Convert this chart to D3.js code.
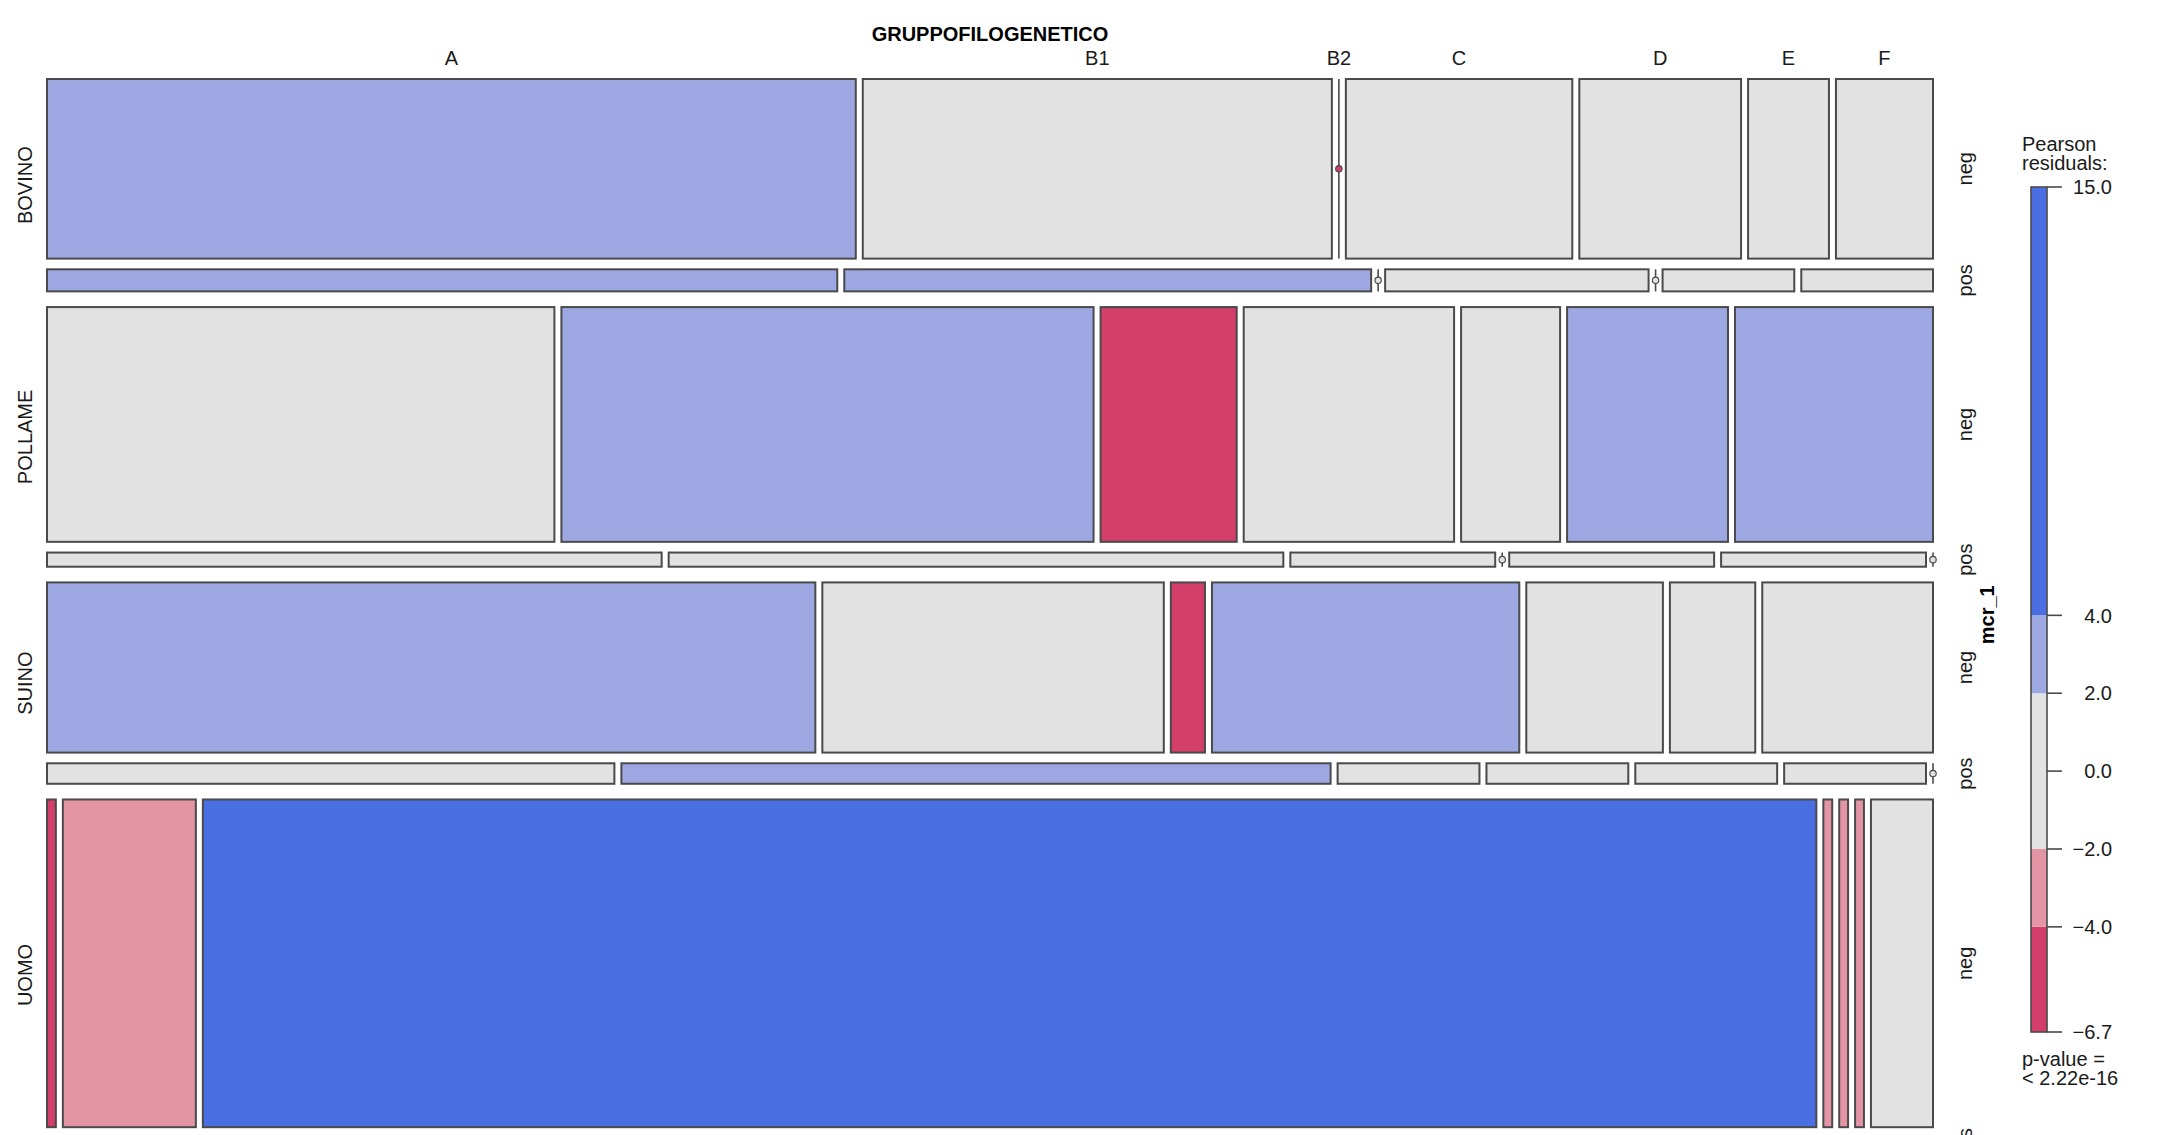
<!DOCTYPE html>
<html>
<head>
<meta charset="utf-8">
<script src="https://cdn.jsdelivr.net/npm/d3@7"></script>
<style>
  html, body { margin: 0; padding: 0; background: #ffffff; }
  svg { display: block; }
  text { font-family: "Liberation Sans", Arial, sans-serif; fill: #1a1a1a; }
</style>
</head>
<body>
<script>
// ---------------- data ----------------
const origins   = ["BOVINO", "POLLAME", "SUINO", "UOMO"];
const mcrLevels = ["neg", "pos"];
const groups    = ["A", "B1", "B2", "C", "D", "E", "F"];

// counts per GRUPPOFILOGENETICO (A, B1, B2, C, D, E, F)
const bovinoNeg  = [50, 29, 0, 14, 10, 5, 6];
const bovinoPos  = [6, 4, 0, 2, 0, 1, 1];
const pollameNeg = [41, 43, 11, 17, 8, 13, 16];
const pollamePos = [3, 3, 1, 0, 1, 1, 0];
const suinoNeg   = [45, 20, 2, 18, 8, 5, 10];
const suinoPos   = [4, 5, 1, 1, 1, 1, 0];
const uomoNeg    = [1, 15, 182, 1, 1, 1, 7];
const uomoPos    = [0, 1, 6, 0, 0, 0, 1];

// Pearson residuals (estimated from the shading)
const bovinoNegRes  = [3.9, 1.2, -6.2, 0.5, 1.0, 0.3, 0.8];
const bovinoPosRes  = [2.6, 2.1, -1.6, 1.0, -0.9, 0.7, 0.4];
const pollameNegRes = [-0.5, 2.9, -5.3, 0.7, 0.4, 2.8, 2.6];
const pollamePosRes = [0.3, 1.0, -1.3, -1.0, 0.6, 0.7, -1.0];
const suinoNegRes   = [3.3, 0.4, -5.7, 3.0, 0.8, 0.1, 1.5];
const suinoPosRes   = [0.6, 2.5, -1.1, 0.5, 1.2, 1.3, -1.2];
const uomoNegRes    = [-6.7, -3.6, 15.0, -3.8, -2.7, -2.5, -1.6];
const uomoPosRes    = [-1.8, -0.9, 0.9, -1.1, -0.8, -0.8, 0.2];

const legendBreaks = [4, 2, 0, -2, -4];
const shadeBreaks  = [-4, -2, 2, 4];
const shadeColors  = ["#D33F6A", "#E495A5", "#E2E2E2", "#9DA8E2", "#4A6FE3"];
const pValueText   = "< 2.22e-16";

// ---------------- table built from the arrays ----------------
const table = [
  { origin: origins[0], strips: [ { mcr: mcrLevels[0], counts: bovinoNeg,  res: bovinoNegRes },  { mcr: mcrLevels[1], counts: bovinoPos,  res: bovinoPosRes } ] },
  { origin: origins[1], strips: [ { mcr: mcrLevels[0], counts: pollameNeg, res: pollameNegRes }, { mcr: mcrLevels[1], counts: pollamePos, res: pollamePosRes } ] },
  { origin: origins[2], strips: [ { mcr: mcrLevels[0], counts: suinoNeg,   res: suinoNegRes },   { mcr: mcrLevels[1], counts: suinoPos,   res: suinoPosRes } ] },
  { origin: origins[3], strips: [ { mcr: mcrLevels[0], counts: uomoNeg,    res: uomoNegRes },    { mcr: mcrLevels[1], counts: uomoPos,    res: uomoPosRes } ] }
];

// ---------------- layout ----------------
const W = 2166, H = 1135;
const plotLeft = 47, plotRight = 1933, plotTop = 79, plotBottom = 1150.5;
const colGap = 7, innerGap = 10.7, outerGap = 15.7;
const fontSize = 20;
const strokeCol = "#4a4a4a";

const color = d3.scaleThreshold().domain(shadeBreaks).range(shadeColors);

const svg = d3.select("body").append("svg").attr("width", W).attr("height", H);

const N = d3.sum(table, r => d3.sum(r.strips, s => d3.sum(s.counts)));
const totalInner = d3.sum(table, r => r.strips.length - 1) * innerGap;
const totalOuter = (table.length - 1) * outerGap;
const yCount = d3.scaleLinear().domain([0, N]).range([0, plotBottom - plotTop - totalInner - totalOuter]);

let yCur = plotTop;
table.forEach((row) => {
  row.y0 = yCur;
  row.strips.forEach((s, si) => {
    s.total = d3.sum(s.counts);
    s.y0 = yCur;
    s.h = yCount(s.total);
    yCur += s.h;
    s.y1 = yCur;
    if (si < row.strips.length - 1) yCur += innerGap;
    const xCount = d3.scaleLinear().domain([0, s.total])
      .range([0, plotRight - plotLeft - (groups.length - 1) * colGap]);
    let cum = 0;
    s.cells = s.counts.map((c, gi) => {
      const x0 = plotLeft + xCount(cum) + gi * colGap;
      cum += c;
      return { group: groups[gi], count: c, res: s.res[gi], x0: x0, w: xCount(c), y0: s.y0, h: s.h };
    });
  });
  row.y1 = yCur;
  yCur += outerGap;
});

// ---------------- cells ----------------
const gCells = svg.append("g");
table.forEach(row => {
  row.strips.forEach(s => {
    s.cells.forEach(c => {
      if (c.count > 0) {
        gCells.append("rect")
          .attr("x", c.x0).attr("y", c.y0)
          .attr("width", c.w).attr("height", c.h)
          .attr("fill", color(c.res))
          .attr("stroke", strokeCol).attr("stroke-width", 2);
      } else {
        gCells.append("line")
          .attr("x1", c.x0).attr("x2", c.x0)
          .attr("y1", c.y0).attr("y2", c.y0 + c.h)
          .attr("stroke", strokeCol).attr("stroke-width", 1.6);
        gCells.append("circle")
          .attr("cx", c.x0).attr("cy", c.y0 + c.h / 2).attr("r", 3.2)
          .attr("fill", color(c.res))
          .attr("stroke", strokeCol).attr("stroke-width", 1.2);
      }
    });
  });
});

// ---------------- labels ----------------
svg.append("text")
  .attr("x", (plotLeft + plotRight) / 2).attr("y", 41)
  .attr("text-anchor", "middle").attr("font-weight", "bold")
  .attr("font-size", fontSize).style("fill", "#000")
  .text("GRUPPOFILOGENETICO");

// top labels: centred on the first strip's cells
table[0].strips[0].cells.forEach(c => {
  svg.append("text")
    .attr("x", c.x0 + c.w / 2).attr("y", 65)
    .attr("text-anchor", "middle").attr("font-size", fontSize)
    .text(c.group);
});

// left labels (ORIGINE)
table.forEach(row => {
  const cy = (row.y0 + row.y1) / 2;
  svg.append("text")
    .attr("transform", `translate(25,${cy}) rotate(-90)`)
    .attr("text-anchor", "middle").attr("dy", "0.36em")
    .attr("font-size", fontSize)
    .text(row.origin);
});

// right labels (mcr_1 levels)
table.forEach(row => {
  row.strips.forEach(s => {
    const cy = (s.y0 + s.y1) / 2;
    svg.append("text")
      .attr("transform", `translate(1965,${cy}) rotate(-90)`)
      .attr("text-anchor", "middle").attr("dy", "0.36em")
      .attr("font-size", fontSize)
      .text(s.mcr);
  });
});

svg.append("text")
  .attr("transform", `translate(1987,${(plotTop + plotBottom) / 2}) rotate(-90)`)
  .attr("text-anchor", "middle").attr("dy", "0.36em")
  .attr("font-size", fontSize).attr("font-weight", "bold").style("fill", "#000")
  .text("mcr_1");

// ---------------- legend ----------------
const allRes = table.flatMap(r => r.strips.flatMap(s => s.res));
const resMax = d3.max(allRes), resMin = d3.min(allRes);
const legX0 = 2031, legX1 = 2047, legTop = 187, legBottom = 1032;
const yLeg = d3.scaleLinear().domain([resMin, resMax]).range([legBottom, legTop]);

const bounds = [resMin, ...shadeBreaks, resMax];
for (let i = 0; i < bounds.length - 1; i++) {
  const lo = bounds[i], hi = bounds[i + 1];
  svg.append("rect")
    .attr("x", legX0).attr("y", yLeg(hi))
    .attr("width", legX1 - legX0).attr("height", yLeg(lo) - yLeg(hi))
    .attr("fill", color((lo + hi) / 2));
}
svg.append("rect")
  .attr("x", legX0).attr("y", legTop)
  .attr("width", legX1 - legX0).attr("height", legBottom - legTop)
  .attr("fill", "none").attr("stroke", strokeCol).attr("stroke-width", 1.6);

const legTicks = [resMax, ...legendBreaks, resMin];
const fmt = d3.format(".1f");
legTicks.forEach(t => {
  svg.append("line")
    .attr("x1", legX1).attr("x2", 2062)
    .attr("y1", yLeg(t)).attr("y2", yLeg(t))
    .attr("stroke", strokeCol).attr("stroke-width", 1.6);
  svg.append("text")
    .attr("x", 2112).attr("y", yLeg(t)).attr("dy", "0.36em")
    .attr("text-anchor", "end").attr("font-size", fontSize)
    .text(fmt(t));
});

svg.append("text").attr("x", 2022).attr("y", 151).attr("font-size", fontSize).text("Pearson");
svg.append("text").attr("x", 2022).attr("y", 170).attr("font-size", fontSize).text("residuals:");
svg.append("text").attr("x", 2022).attr("y", 1066).attr("font-size", fontSize).text("p-value =");
svg.append("text").attr("x", 2022).attr("y", 1085).attr("font-size", fontSize).text(pValueText);
</script>
</body>
</html>
